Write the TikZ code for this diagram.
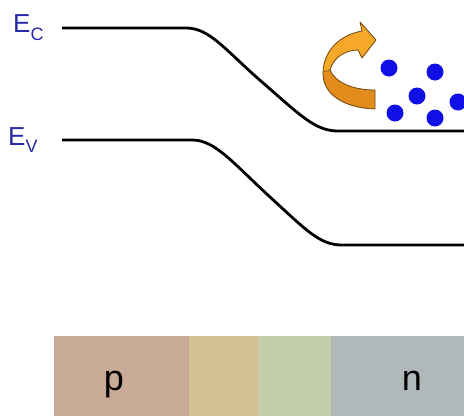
\documentclass[tikz,border=0pt]{standalone}
\usepackage{fontspec}
\setmainfont{Liberation Sans}
\definecolor{lbl}{RGB}{40,40,170}
\definecolor{pcol}{RGB}{200,170,150}
\definecolor{ycol}{RGB}{212,194,146}
\definecolor{gcol}{RGB}{196,206,172}
\definecolor{ncol}{RGB}{176,184,186}
\definecolor{dotblue}{RGB}{16,16,230}
\definecolor{arrowedge}{RGB}{110,70,15}
\definecolor{orangelight}{RGB}{246,168,40}
\definecolor{orangedark}{RGB}{226,140,30}
\begin{document}
\begin{tikzpicture}[x=1pt,y=-1pt,
  band/.style={line width=2.8pt,line cap=butt},
  region/.style={draw=none,minimum height=80pt,anchor=north west,inner sep=0pt},
  bandlabel/.style={text=lbl,inner sep=0pt,anchor=base west},
  dot/.style={circle,fill=dotblue,minimum size=17pt,inner sep=0pt},
  regionlabel/.style={font=\fontsize{36}{36}\selectfont,inner sep=0pt,anchor=base}]
\useasboundingbox (0,0) rectangle (464,416);

% band labels
\node[bandlabel] (ec) at (13,32) {\fontsize{26}{26}\selectfont E\raisebox{-8pt}{\fontsize{18}{18}\selectfont C}};
\node[bandlabel] (ev) at (8,145) {\fontsize{26}{26}\selectfont E\raisebox{-7pt}{\fontsize{18}{18}\selectfont V}};

% conduction band edge
\coordinate (ec0) at (62,28);
\coordinate (ec1) at (186,28);
\coordinate (ec2) at (338,131);
\coordinate (ec3) at (464,131);
\draw[band] (ec0) -- (ec1) .. controls (210,28) and (225,50) .. (262,82)
  .. controls (300,115) and (315,131) .. (ec2) -- (ec3);

% valence band edge
\coordinate (ev0) at (62,140);
\coordinate (ev1) at (192,140);
\coordinate (ev2) at (342,245);
\coordinate (ev3) at (464,245);
\draw[band] (ev0) -- (ev1) .. controls (215,140) and (232,162) .. (270,197)
  .. controls (307,231) and (320,245) .. (ev2) -- (ev3);

% curved ribbon arrow: darker back part below, lighter front part above
\fill[orangedark]
  (375,109) .. controls (345,108) and (322,95) .. (323,72)
  -- (330,70) .. controls (335,82) and (352,90) .. (375,90) -- cycle;
\fill[orangelight]
  (323,72) .. controls (324,50) and (340,35) .. (362,31)
  -- (360,22) -- (376,40) -- (362,58) -- (358,50)
  .. controls (345,50) and (333,58) .. (330,70) -- cycle;
\draw[arrowedge,line width=0.8pt,line join=round]
  (375,109) .. controls (345,108) and (322,95) .. (323,72)
  .. controls (324,50) and (340,35) .. (362,31)
  -- (360,22) -- (376,40) -- (362,58) -- (358,50)
  .. controls (345,50) and (333,58) .. (330,70)
  .. controls (335,82) and (352,90) .. (375,90) -- cycle;
\draw[arrowedge,line width=0.6pt] (323,72) -- (330,70);

% electrons
\node[dot] (d1) at (389,68) {};
\node[dot] (d2) at (435,72) {};
\node[dot] (d3) at (417,96) {};
\node[dot] (d4) at (395,113) {};
\node[dot] (d5) at (435,118) {};
\node[dot] (d6) at (458,102) {};

% device regions
\node[region,fill=pcol,minimum width=135pt] (rp) at (54,336) {};
\node[region,fill=ycol,minimum width=69pt] (ry) at (189,336) {};
\node[region,fill=gcol,minimum width=73pt] (rg) at (258,336) {};
\node[region,fill=ncol,minimum width=133pt] (rn) at (331,336) {};
\node[regionlabel] (lp) at (114,390) {p};
\node[regionlabel] (ln) at (412,390) {n};
\end{tikzpicture}
\end{document}
